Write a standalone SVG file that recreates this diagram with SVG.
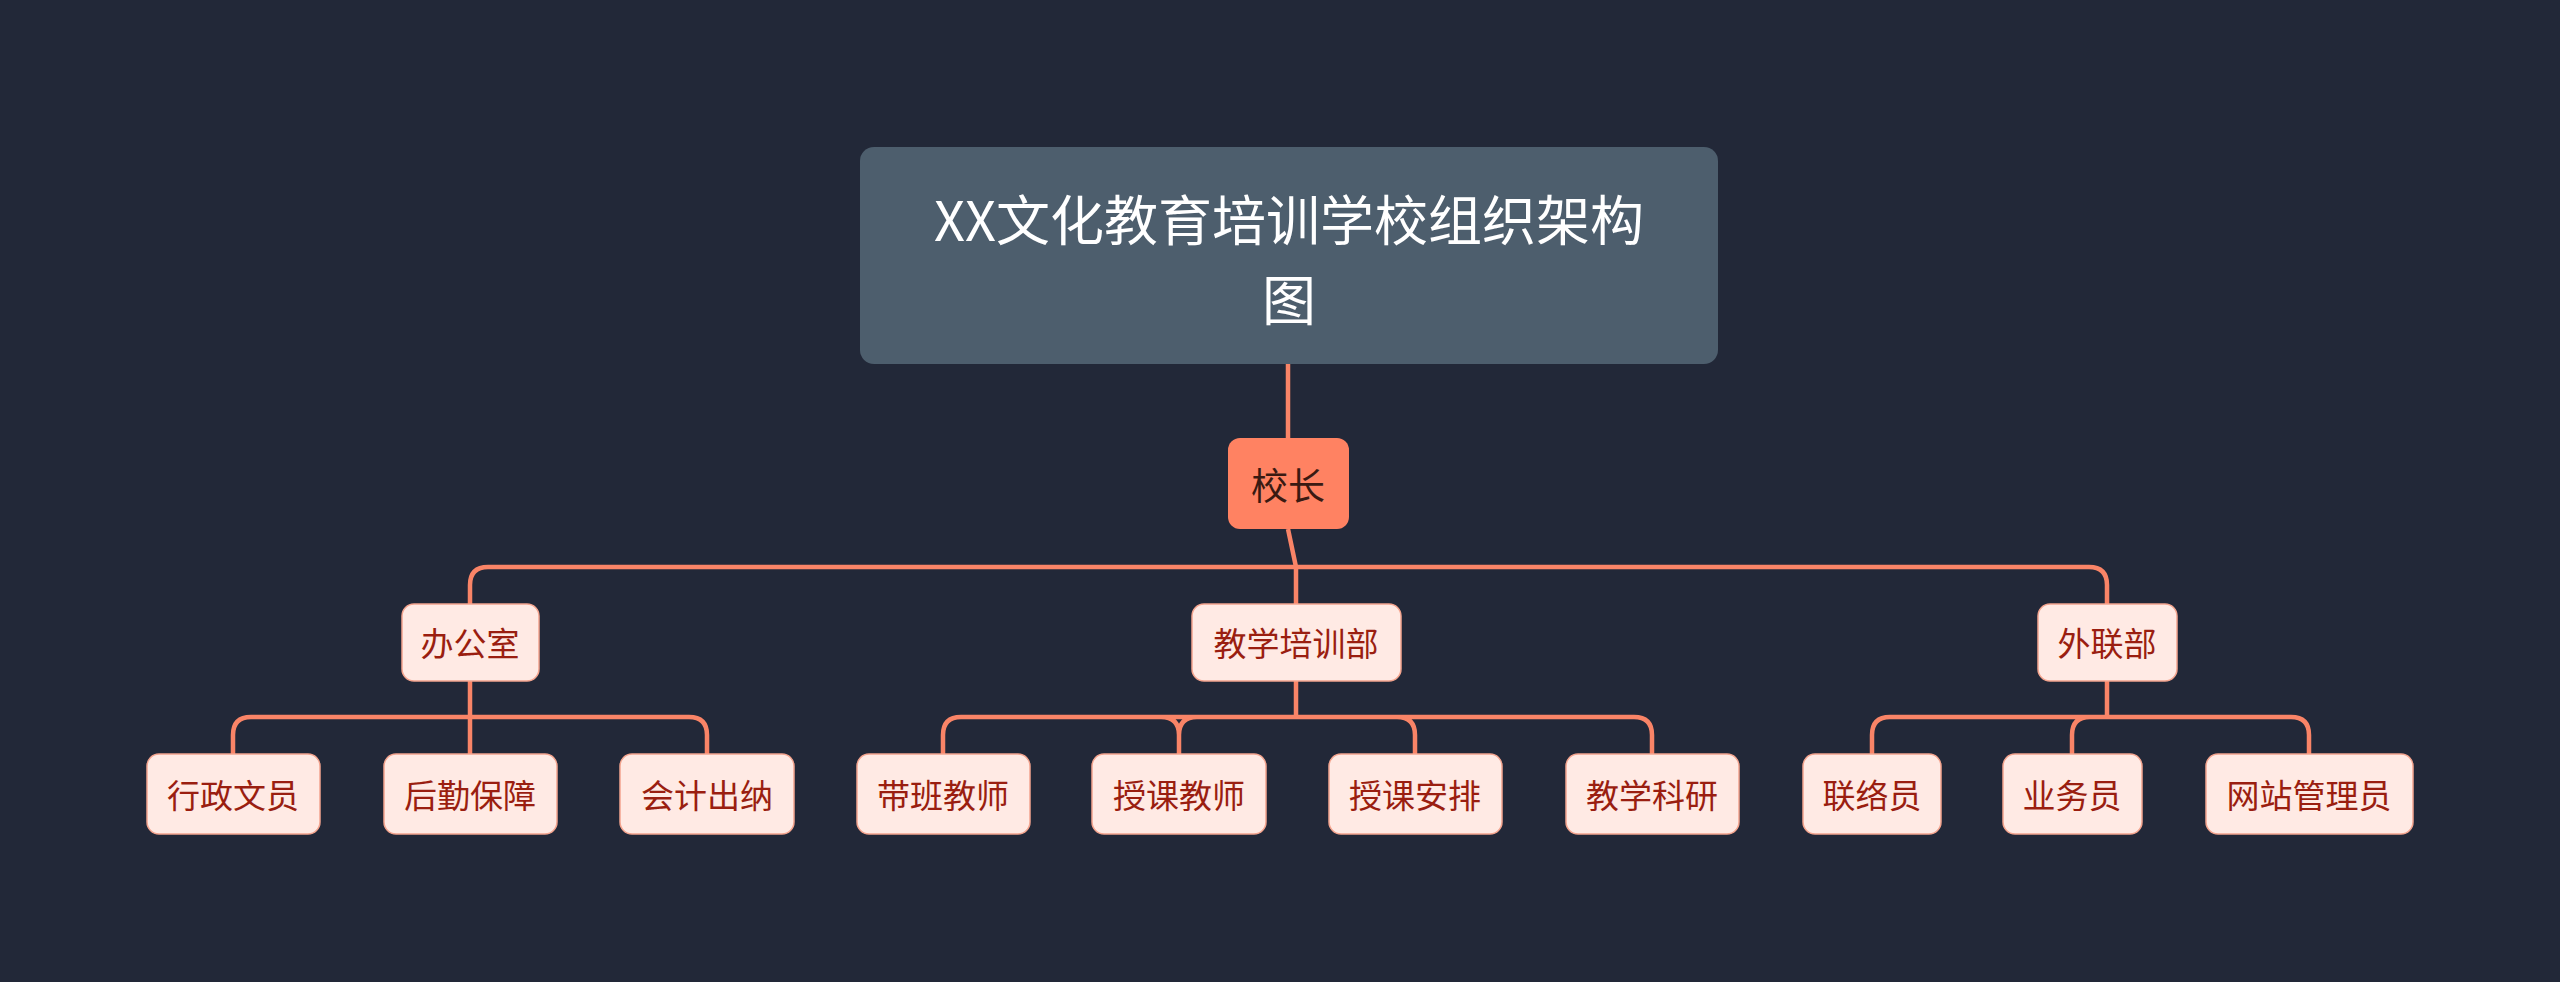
<svg xmlns="http://www.w3.org/2000/svg" width="2560" height="982" viewBox="0 0 2560 982">
<style>
.n rect{fill:#FFEAE4;stroke:#F4A48E;stroke-width:1.5}
.n text{font-family:"Noto Sans CJK SC","Noto Sans",sans-serif;font-size:33px;fill:#9A1E10;text-anchor:middle;dominant-baseline:central}
.c path{fill:none;stroke:#F98467;stroke-width:4.5}
</style>
<rect width="2560" height="982" fill="#222838"/>
<g class="c">
<path d="M1288 364V438"/>
<path d="M1288 529L1296 567V604"/>
<path d="M470 604V585Q470 567 488 567H2089Q2107 567 2107 585V604"/>
<path d="M470 681V754M233 754V735Q233 717 251 717H689Q707 717 707 735V754"/>
<path d="M1296 681V717M943 754V735Q943 717 961 717H1634Q1652 717 1652 735V754M1179 754V735Q1179 717 1197 717H1161Q1179 717 1179 735M1415 754V735Q1415 717 1397 717"/>
<path d="M2107 681V717M1872 754V735Q1872 717 1890 717H2291Q2309 717 2309 735V754M2072 754V735Q2072 717 2090 717"/>
</g>
<g id="root"><rect x="860" y="147" width="858" height="217" rx="14" fill="#4D5E6D"/>
<text x="1289" y="217" font-family="Noto Sans CJK SC,sans-serif" font-size="54" fill="#FFFFFF" text-anchor="middle" dominant-baseline="central">XX文化教育培训学校组织架构</text>
<text x="1289" y="297" font-family="Noto Sans CJK SC,sans-serif" font-size="54" fill="#FFFFFF" text-anchor="middle" dominant-baseline="central">图</text></g>
<g id="principal"><rect x="1228" y="438" width="121" height="91" rx="12" fill="#FF8262"/>
<text x="1288" y="484" font-family="Noto Sans CJK SC,sans-serif" font-size="37" fill="#3A1A12" text-anchor="middle" dominant-baseline="central">校长</text></g>
<g id="office" class="n"><rect x="402" y="604" width="137" height="77" rx="12"/><text x="470" y="642">办公室</text></g>
<g id="teach" class="n"><rect x="1192" y="604" width="209" height="77" rx="12"/><text x="1296" y="642">教学培训部</text></g>
<g id="ext" class="n"><rect x="2038" y="604" width="139" height="77" rx="12"/><text x="2107" y="642">外联部</text></g>
<g id="n1" class="n"><rect x="147" y="754" width="173" height="80" rx="12"/><text x="233" y="794">行政文员</text></g>
<g id="n2" class="n"><rect x="384" y="754" width="173" height="80" rx="12"/><text x="470" y="794">后勤保障</text></g>
<g id="n3" class="n"><rect x="620" y="754" width="174" height="80" rx="12"/><text x="707" y="794">会计出纳</text></g>
<g id="n4" class="n"><rect x="857" y="754" width="173" height="80" rx="12"/><text x="943" y="794">带班教师</text></g>
<g id="n5" class="n"><rect x="1092" y="754" width="174" height="80" rx="12"/><text x="1179" y="794">授课教师</text></g>
<g id="n6" class="n"><rect x="1329" y="754" width="173" height="80" rx="12"/><text x="1415" y="794">授课安排</text></g>
<g id="n7" class="n"><rect x="1566" y="754" width="173" height="80" rx="12"/><text x="1652" y="794">教学科研</text></g>
<g id="n8" class="n"><rect x="1803" y="754" width="138" height="80" rx="12"/><text x="1872" y="794">联络员</text></g>
<g id="n9" class="n"><rect x="2003" y="754" width="139" height="80" rx="12"/><text x="2072" y="794">业务员</text></g>
<g id="n10" class="n"><rect x="2206" y="754" width="207" height="80" rx="12"/><text x="2309" y="794">网站管理员</text></g>
</svg>
